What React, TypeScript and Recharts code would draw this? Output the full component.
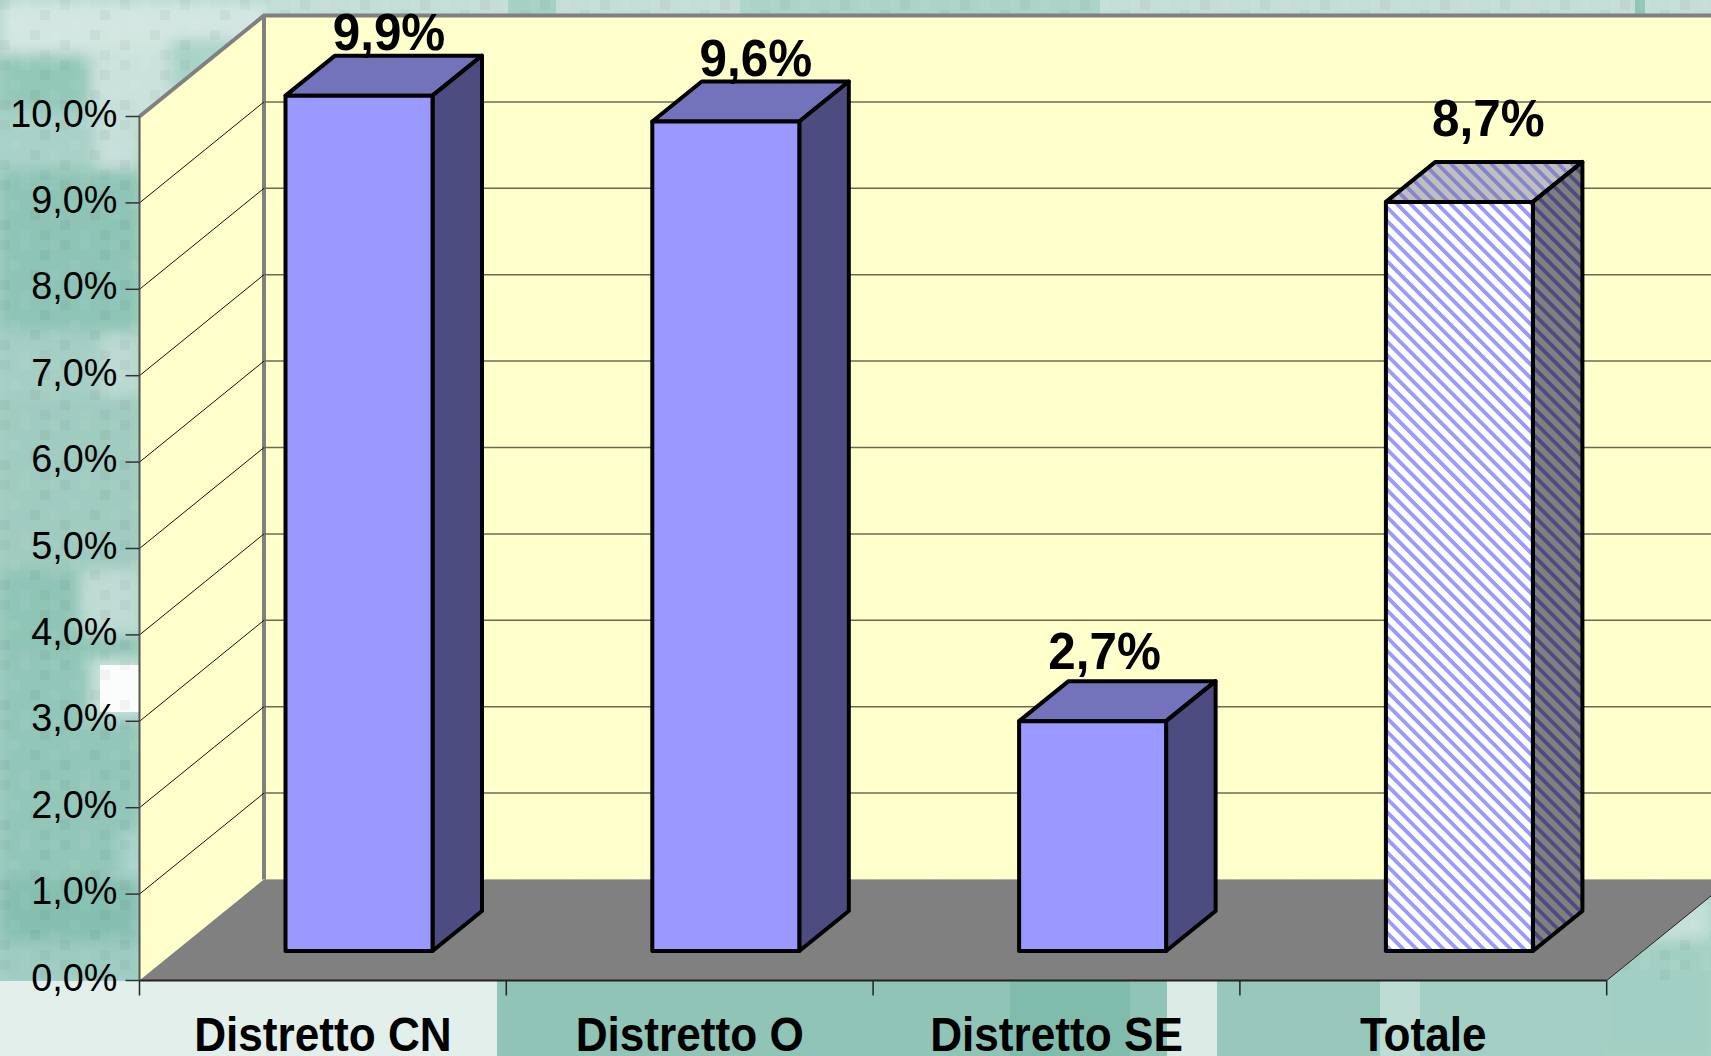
import { BarChart, Bar, XAxis, YAxis, CartesianGrid, LabelList } from 'recharts';

const categories = ['Distretto CN', 'Distretto O', 'Distretto SE', 'Totale'];
const values = [9.9, 9.6, 2.66, 8.67];
const yTicks = [0, 1, 2, 3, 4, 5, 6, 7, 8, 9, 10];
const hatchedCategory = 'Totale';

// hand placed data labels, they were dragged around in the original
const labelShiftX = [30, 30, 12, 29];
const labelLift = [5, 5, 11, 25];

const W = 1711;
const H = 1056;
const LEFT = 139.5;
const RIGHT = 1606.7;
const TOP = 116.5;
const BOTTOM = 980.5;
const WALL_DX = 124.5;
const WALL_DY = 101;
const BAR_DX = 36;
const BAR_DY = 29.5;
const CUBE_DX = 49.5;
const CUBE_DY = 40;
const BAND = (RIGHT - LEFT) / categories.length;

const data = categories.map((name, i) => ({ name, value: values[i] }));

// rough copy of the slide's background: x, y, w, h, colour
const softPatches: [number, number, number, number, string][] = [
  [0, 0, 270, 50, '#d3e6e1'],
  [0, 50, 270, 70, '#cbe2dc'],
  [0, 55, 90, 55, '#93c8b9'],
  [170, 40, 70, 50, '#a9d3c8'],
  [0, 110, 140, 60, '#a9d1c7'],
  [95, 100, 45, 70, '#c6dfd9'],
  [0, 170, 140, 160, '#8dc4b5'],
  [0, 330, 140, 70, '#a5cec4'],
  [100, 335, 40, 60, '#bcd9d2'],
  [0, 400, 140, 170, '#a0cbc0'],
  [0, 570, 140, 90, '#8fc5b6'],
  [80, 570, 60, 65, '#bedbd4'],
  [0, 655, 140, 325, '#92c6b8'],
  [90, 658, 50, 60, '#c9e2dc'],
  [120, 830, 20, 50, '#a9d3c9'],
  [0, 880, 140, 60, '#85bfb0'],
  [0, 940, 140, 40, '#9ccbc0'],
  [1604, 860, 107, 196, '#a2cfc3'],
  [1640, 900, 71, 40, '#c4e0d9'],
];
const sharpPatches: [number, number, number, number, string][] = [
  [270, 0, 1441, 16, '#c3ded7'],
  [508, 0, 48, 16, '#a5d1c5'],
  [740, 0, 360, 16, '#abd3c9'],
  [1635, 0, 10, 16, '#8fc6b7'],
  [100, 665, 40, 47, '#fbfdfc'],
  [0, 981, 497, 75, '#e2efeb'],
  [497, 981, 670, 75, '#8fc4b6'],
  [1010, 981, 120, 75, '#80bcab'],
  [1167, 981, 50, 75, '#dcebe6'],
  [1217, 981, 163, 75, '#98c8bb'],
  [1380, 981, 224, 75, '#bcdcd4'],
  [1420, 981, 184, 75, '#a4cfc4'],
];

// small mottling tile, the background looks like an upscaled jpeg
const mottle: [number, number, string, number][] = [
  [0, 0, '#000', 0.03], [20, 0, '#fff', 0.05], [40, 10, '#000', 0.04], [10, 20, '#fff', 0.05],
  [30, 30, '#000', 0.04], [50, 30, '#fff', 0.04], [0, 40, '#000', 0.04], [20, 50, '#fff', 0.04],
  [40, 50, '#000', 0.03], [50, 0, '#fff', 0.04],
];

function Backdrop() {
  return (
    <svg width={W} height={H} style={{ position: 'absolute', left: 0, top: 0 }}>
      <defs>
        <pattern id="mottle" width={60} height={60} patternUnits="userSpaceOnUse">
          {mottle.map(([x, y, c, o], i) => (
            <rect key={i} x={x} y={y} width={10} height={10} fill={c} opacity={o} />
          ))}
        </pattern>
        <filter id="soft" x="-5%" y="-5%" width="110%" height="110%">
          <feGaussianBlur stdDeviation={7} />
        </filter>
      </defs>
      <rect width={W} height={H} fill="#a8d2c7" />
      <g filter="url(#soft)">
        {softPatches.map(([x, y, w, h, c], i) => (
          <rect key={i} x={x} y={y} width={w} height={h} fill={c} />
        ))}
      </g>
      {sharpPatches.map(([x, y, w, h, c], i) => (
        <rect key={i} x={x} y={y} width={w} height={h} fill={c} />
      ))}
      <rect width={W} height={BOTTOM} fill="url(#mottle)" />
      {/* back wall, side wall, floor */}
      <rect x={LEFT + WALL_DX} y={TOP - WALL_DY} width={W} height={BOTTOM - TOP} fill="#ffffcc" />
      <polygon
        points={`${LEFT},${TOP} ${LEFT + WALL_DX},${TOP - WALL_DY} ${LEFT + WALL_DX},${BOTTOM - WALL_DY} ${LEFT},${BOTTOM}`}
        fill="#ffffcc"
      />
      <polygon
        points={`${LEFT},${BOTTOM} ${RIGHT},${BOTTOM} ${RIGHT + WALL_DX},${BOTTOM - WALL_DY} ${LEFT + WALL_DX},${BOTTOM - WALL_DY}`}
        fill="#808080"
      />
      <polyline
        points={`${LEFT},${TOP} ${LEFT + WALL_DX},${TOP - WALL_DY} ${W},${TOP - WALL_DY}`}
        fill="none"
        stroke="#808080"
        strokeWidth={4}
      />
      <line
        x1={LEFT + WALL_DX}
        y1={TOP - WALL_DY}
        x2={LEFT + WALL_DX}
        y2={BOTTOM - WALL_DY}
        stroke="#808080"
        strokeWidth={4}
      />
      <line x1={RIGHT} y1={BOTTOM} x2={RIGHT + WALL_DX} y2={BOTTOM - WALL_DY} stroke="#222" strokeWidth={1} />
    </svg>
  );
}

// each grid line runs along the side wall and then across the back wall
function GridLine(props: any) {
  const { y1, key } = props;
  if (y1 <= TOP + 1 || y1 >= BOTTOM - 1) return <g key={key} />;
  const backX = LEFT + WALL_DX;
  const backY = y1 - WALL_DY;
  return (
    <g key={key}>
      <line x1={LEFT} y1={y1} x2={backX} y2={backY} stroke="#111" strokeWidth={1} />
      <line x1={backX} y1={backY} x2={W} y2={backY} stroke="#6b6b55" strokeWidth={1.5} />
    </g>
  );
}

function YTick({ x, y, payload }: any) {
  const label = payload.value.toFixed(1).replace('.', ',') + '%';
  return (
    <text
      transform={`translate(${x} ${y + 10}) scale(0.97 1)`}
      textAnchor="end"
      fontFamily="Liberation Sans"
      fontSize={39}
      fill="#000"
    >
      {label}
    </text>
  );
}

function XTick({ x, payload, index }: any) {
  const last = index === categories.length - 1;
  return (
    <g>
      <line x1={x - BAND / 2} y1={BOTTOM} x2={x - BAND / 2} y2={BOTTOM + 15} stroke="#222" strokeWidth={1.5} />
      {last && <line x1={x + BAND / 2} y1={BOTTOM} x2={x + BAND / 2} y2={BOTTOM + 15} stroke="#222" strokeWidth={1.5} />}
      <text
        transform={`translate(${x} ${BOTTOM + 70}) scale(0.92 1)`}
        textAnchor="middle"
        fontFamily="Liberation Sans"
        fontWeight="bold"
        fontSize={48}
        fill="#000"
      >
        {payload.value}
      </text>
    </g>
  );
}

function Hatch({ id, base, stripe }: { id: string; base: string; stripe: string }) {
  return (
    <pattern id={id} width={9.5} height={9.5} patternUnits="userSpaceOnUse" patternTransform="rotate(45)">
      <rect width={9.5} height={9.5} fill={base} />
      <rect width={9.5} height={3.8} fill={stripe} />
    </pattern>
  );
}

function Cuboid(props: any) {
  const { x, y, width, height, payload } = props;
  const hatched = payload.name === hatchedCategory;
  const x0 = x + BAR_DX;
  const y0 = y - BAR_DY;
  const x1 = x0 + width;
  const y1 = y0 + height;
  const line = { stroke: '#000', strokeWidth: 4, strokeLinejoin: 'round' as const };
  return (
    <g>
      {hatched && (
        <defs>
          <Hatch id="hatchFront" base="#ffffff" stripe="#9999ff" />
          <Hatch id="hatchTop" base="#bfbfbf" stripe="#8585cc" />
          <Hatch id="hatchSide" base="#808080" stripe="#4c4c80" />
        </defs>
      )}
      <polygon
        points={`${x0},${y0} ${x0 + CUBE_DX},${y0 - CUBE_DY} ${x1 + CUBE_DX},${y0 - CUBE_DY} ${x1},${y0}`}
        fill={hatched ? 'url(#hatchTop)' : '#7373bb'}
        {...line}
      />
      <polygon
        points={`${x1},${y0} ${x1 + CUBE_DX},${y0 - CUBE_DY} ${x1 + CUBE_DX},${y1 - CUBE_DY} ${x1},${y1}`}
        fill={hatched ? 'url(#hatchSide)' : '#4c4c80'}
        {...line}
      />
      <rect x={x0} y={y0} width={width} height={height} fill={hatched ? 'url(#hatchFront)' : '#9999ff'} {...line} />
    </g>
  );
}

function ValueLabel({ x, y, width, value, index }: any) {
  return (
    <text
      transform={`translate(${x + width / 2 + BAR_DX + labelShiftX[index]} ${y - BAR_DY - 41 - labelLift[index]}) scale(0.95 1)`}
      textAnchor="middle"
      fontFamily="Liberation Sans"
      fontWeight="bold"
      fontSize={52}
      fill="#000"
    >
      {Number(value).toFixed(1).replace('.', ',') + '%'}
    </text>
  );
}

export default function App() {
  return (
    <div style={{ position: 'absolute', left: 0, top: 0, width: W, height: H, overflow: 'hidden' }}>
      <Backdrop />
      <div style={{ position: 'absolute', left: 0, top: 0 }}>
        <BarChart
          width={W}
          height={H}
          data={data}
          margin={{ top: TOP, right: W - RIGHT, bottom: 0, left: 0 }}
          barCategoryGap={0}
        >
          <CartesianGrid vertical={false} horizontal={(p: any) => <GridLine {...p} />} />
          <XAxis
            dataKey="name"
            height={H - BOTTOM}
            interval={0}
            tickLine={false}
            axisLine={{ stroke: '#222', strokeWidth: 2 }}
            tick={<XTick />}
          />
          <YAxis
            width={LEFT}
            domain={[0, 10]}
            ticks={yTicks}
            interval={0}
            tickSize={14}
            tickMargin={8}
            tickLine={{ stroke: '#333', strokeWidth: 1.5 }}
            axisLine={{ stroke: '#555', strokeWidth: 2 }}
            tick={<YTick />}
          />
          <Bar dataKey="value" barSize={147} shape={<Cuboid />} isAnimationActive={false}>
            <LabelList dataKey="value" content={<ValueLabel />} />
          </Bar>
        </BarChart>
      </div>
    </div>
  );
}
